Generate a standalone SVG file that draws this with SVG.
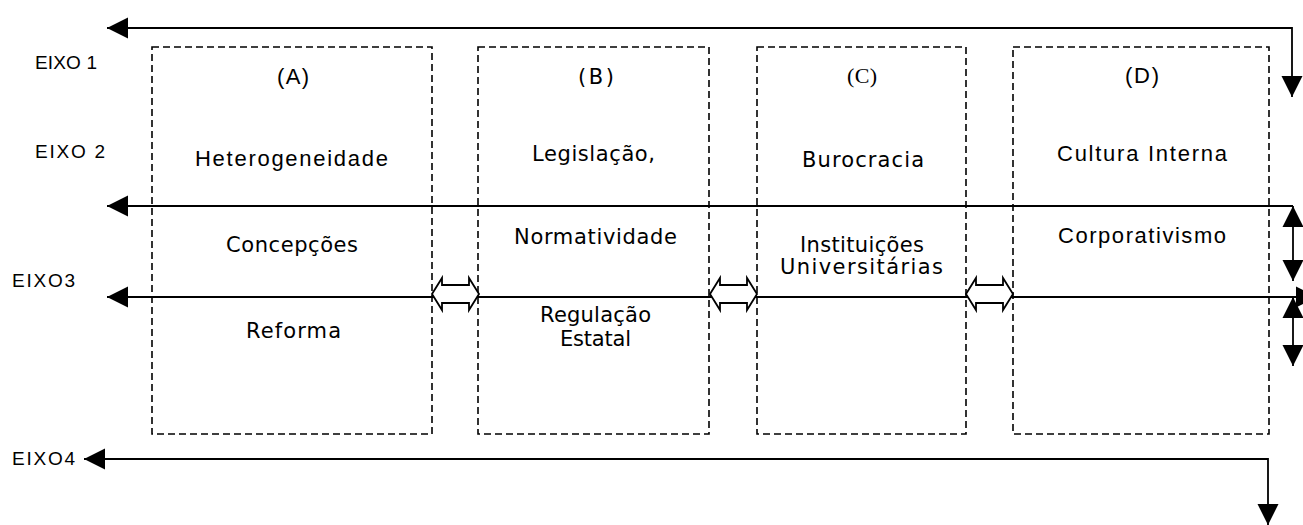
<svg xmlns="http://www.w3.org/2000/svg" width="1303" height="525" viewBox="0 0 1303 525">
<style>
.box{fill:none;stroke:#000;stroke-width:1.6;stroke-dasharray:7 4}
.ax{fill:none;stroke:#000;stroke-width:1.8}
.blk{fill:#fff;stroke:#000;stroke-width:1.8}
.t{font-family:"Liberation Sans",Arial,sans-serif;font-size:22px;fill:#000}
.v{font-family:"DejaVu Sans",Verdana,sans-serif;font-size:21px;fill:#000}
.s{font-family:"Liberation Serif","Times New Roman",serif;font-size:22px;fill:#000}
.e{font-family:"Liberation Sans",Arial,sans-serif;font-size:19px;fill:#000}
</style>
<defs>
<marker id="ah" markerUnits="userSpaceOnUse" markerWidth="22" markerHeight="22" refX="21" refY="11" orient="auto-start-reverse" viewBox="0 0 22 22">
<path d="M0,0.5 L21,11 L0,21.5 Z" fill="#000"/>
</marker>
</defs>
<rect width="1303" height="525" fill="#fff"/>
<g id="labels">
<text class="e" x="35" y="69" textLength="62" lengthAdjust="spacing">EIXO 1</text>
<text class="e" x="35" y="158" textLength="70" lengthAdjust="spacing">EIXO 2</text>
<text class="e" x="12" y="287" textLength="63" lengthAdjust="spacing">EIXO3</text>
<text class="e" x="12" y="465" textLength="63" lengthAdjust="spacing">EIXO4</text>
</g>
<g id="node-A">
<rect class="box" x="152" y="47" width="280" height="387"/>
<text class="t" x="277" y="84" textLength="32" lengthAdjust="spacing">(A)</text>
<text class="t" x="195" y="166" textLength="193" lengthAdjust="spacing">Heterogeneidade</text>
<text class="v" x="226" y="252" textLength="132" lengthAdjust="spacing">Concepções</text>
<text class="v" x="246" y="338" textLength="95" lengthAdjust="spacing">Reforma</text>
</g>
<g id="node-B">
<rect class="box" x="478" y="47" width="231" height="387"/>
<text class="v" x="578" y="84" textLength="36" lengthAdjust="spacing">(B)</text>
<text class="v" x="532" y="161" textLength="123" lengthAdjust="spacing">Legislação,</text>
<text class="v" x="514" y="244" textLength="163" lengthAdjust="spacing">Normatividade</text>
<text class="v" x="540" y="322" textLength="111" lengthAdjust="spacing">Regulação</text>
<text class="v" x="560" y="346" textLength="71" lengthAdjust="spacing">Estatal</text>
</g>
<g id="node-C">
<rect class="box" x="757" y="47" width="209" height="387"/>
<text class="s" x="847" y="83" textLength="30" lengthAdjust="spacing">(C)</text>
<text class="v" x="802" y="167" textLength="122" lengthAdjust="spacing">Burocracia</text>
<text class="v" x="800" y="252" textLength="124" lengthAdjust="spacing">Instituições</text>
<text class="v" x="780" y="274" textLength="163" lengthAdjust="spacing">Universitárias</text>
</g>
<g id="node-D">
<rect class="box" x="1013" y="47" width="256" height="387"/>
<text class="t" x="1125" y="83" textLength="34" lengthAdjust="spacing">(D)</text>
<text class="t" x="1057" y="161" textLength="170" lengthAdjust="spacing">Cultura Interna</text>
<text class="t" x="1058" y="243" textLength="168" lengthAdjust="spacing">Corporativismo</text>
</g>
<g id="connectors">
<path class="ax" d="M107,28 H1292 V97" marker-start="url(#ah)" marker-end="url(#ah)"/>
<path class="ax" d="M107,206 H1293" marker-start="url(#ah)"/>
<path class="ax" d="M1293,206 V281" marker-start="url(#ah)" marker-end="url(#ah)"/>
<path class="ax" d="M107,297 H1317" marker-start="url(#ah)" marker-end="url(#ah)"/>
<path class="ax" d="M1293,297 V366" marker-start="url(#ah)" marker-end="url(#ah)"/>
<path class="ax" d="M84,459 H1268 V525" marker-start="url(#ah)" marker-end="url(#ah)"/>
<polygon class="blk" points="432,294 442,278 442,285 469,285 469,278 479,294 469,310 469,303 442,303 442,310"/>
<polygon class="blk" points="710,294 720,278 720,285 747,285 747,278 757,294 747,310 747,303 720,303 720,310"/>
<polygon class="blk" points="966,294 976,278 976,285 1003,285 1003,278 1013,294 1003,310 1003,303 976,303 976,310"/>
</g>
</svg>
